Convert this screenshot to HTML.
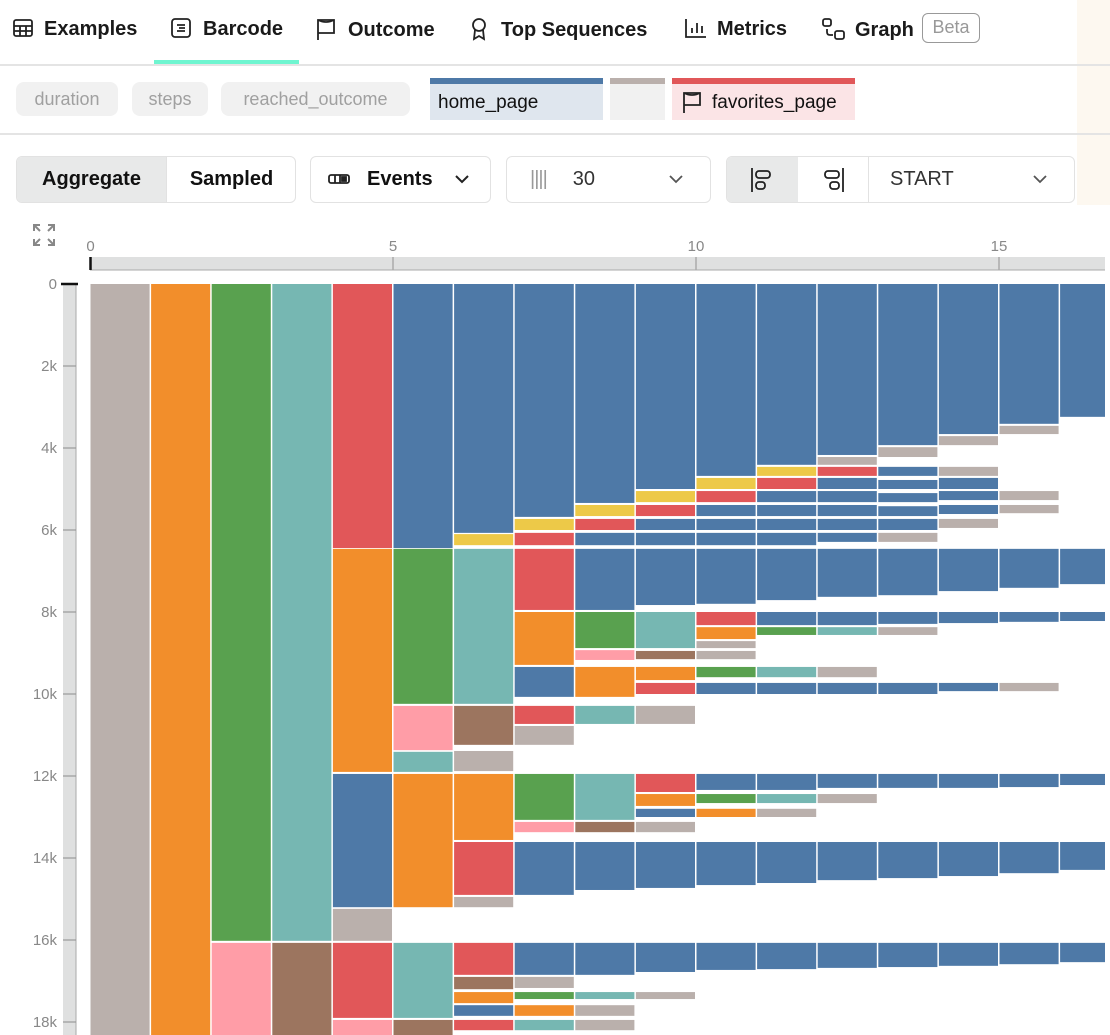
<!DOCTYPE html>
<html><head><meta charset="utf-8"><style>
*{box-sizing:border-box;margin:0;padding:0}
body{width:1110px;height:1035px;overflow:hidden;background:#fff;font-family:"Liberation Sans",sans-serif;position:relative;color:#111}
.abs{position:absolute}
.tab{position:absolute;top:17px;font-size:20px;font-weight:bold;color:#1a1a1a;white-space:nowrap}
.chip{position:absolute;top:82px;height:34px;border-radius:8px;background:#f1f1f1;color:#a0a0a0;font-size:18px;line-height:34px;text-align:center}
.btn{position:absolute;top:156px;height:47px;border:1px solid #e2e2e2;border-radius:6px;font-size:20px;line-height:45px}
.chev{position:absolute;top:17px}
</style></head><body>
<div class="abs" style="left:1077px;top:0;width:33px;height:205px;background:#fdf8f0"></div>
<div>
<div class="tab" style="left:12px"><svg width="22" height="22" viewBox="0 0 22 22" style="vertical-align:-4px;margin-right:10px" fill="none" stroke="#222" stroke-width="1.8"><rect x="2" y="3" width="18" height="16" rx="2"/><path d="M2 9h18M2 14h18M8 9v10M14 9v10"/></svg>Examples</div>
<div class="tab" style="left:170px"><svg width="22" height="22" viewBox="0 0 22 22" style="vertical-align:-4px;margin-right:11px" fill="none" stroke="#222" stroke-width="1.8"><rect x="2" y="2" width="18" height="18" rx="3"/><path d="M7 8h8M9 11h6M7 14h8"/></svg>Barcode</div>
<div class="abs" style="left:154px;top:60px;width:145px;height:4px;background:#6ff5d0"></div>
<div class="tab" style="left:315px"><svg width="22" height="24" viewBox="0 0 22 24" style="vertical-align:-5px;margin-right:11px" fill="none" stroke="#222" stroke-width="1.8"><path d="M3 23V3h16v13H3"/><path d="M3 3q8 4 16 0"/></svg>Outcome</div>
<div class="tab" style="left:469px"><svg width="20" height="24" viewBox="0 0 20 24" style="vertical-align:-5px;margin-right:12px" fill="none" stroke="#222" stroke-width="1.8"><circle cx="10" cy="8" r="6"/><path d="M6 13l-1 9 5-3 5 3-1-9"/></svg>Top Sequences</div>
<div class="tab" style="left:684px"><svg width="24" height="22" viewBox="0 0 24 22" style="vertical-align:-4px;margin-right:9px" fill="none" stroke="#222" stroke-width="1.8"><path d="M2 2v18h20M8 16v-5M13 16V6M18 16V9"/></svg>Metrics</div>
<div class="tab" style="left:821px"><svg width="26" height="24" viewBox="0 0 26 24" style="vertical-align:-5px;margin-right:8px" fill="none" stroke="#222" stroke-width="1.8"><rect x="2" y="2" width="8" height="7" rx="2"/><rect x="14" y="14" width="9" height="8" rx="2"/><path d="M6 12v3q0 3 3 3h3"/></svg>Graph</div>
<div class="abs" style="left:922px;top:13px;width:58px;height:30px;border:1.5px solid #999;border-radius:6px;color:#999;font-size:18px;line-height:27px;text-align:center">Beta</div>
</div>
<div class="abs" style="left:0;top:64px;width:1110px;height:1.5px;background:#e4e4e4"></div>
<div class="chip" style="left:16px;width:102px">duration</div>
<div class="chip" style="left:132px;width:76px">steps</div>
<div class="chip" style="left:221px;width:189px">reached_outcome</div>
<div class="abs" style="left:430px;top:78px;width:173px;height:42px;background:#dfe6ee;border-top:6px solid #4e79a7;font-size:19px;line-height:38px;padding-left:8px">home_page</div>
<div class="abs" style="left:610px;top:78px;width:55px;height:42px;background:#f1f1f1;border-top:6px solid #bab0ac"></div>
<div class="abs" style="left:672px;top:78px;width:183px;height:42px;background:#fbe4e6;border-top:6px solid #e15759;font-size:19px;line-height:38px;padding-left:10px"><svg width="20" height="24" viewBox="0 0 20 24" style="vertical-align:-6px;margin-right:10px" fill="none" stroke="#222" stroke-width="1.8"><path d="M2 23V3h16v12H2"/><path d="M2 3q8 4 16 0"/></svg>favorites_page</div>
<div class="abs" style="left:0;top:133px;width:1110px;height:1.5px;background:#e4e4e4"></div>
<div class="btn" style="left:16px;width:280px;overflow:hidden">
<div class="abs" style="left:0;top:0;width:149px;height:45px;background:#e8e9e9;font-weight:bold;text-align:center">Aggregate</div>
<div class="abs" style="left:149px;top:0;width:130px;height:45px;font-weight:bold;text-align:center;border-left:1px solid #e2e2e2">Sampled</div></div>
<div class="btn" style="left:310px;width:181px;font-weight:bold;padding-left:17px"><svg width="22" height="12" viewBox="0 0 22 12" style="vertical-align:0;margin-right:17px" fill="none" stroke="#222" stroke-width="1.8"><rect x="1" y="2" width="20" height="8" rx="2"/><path d="M7 2v8M12 2v8"/><rect x="14" y="4" width="4" height="4" fill="#222"/></svg>Events<svg class="chev" style="left:143px" width="16" height="10" viewBox="0 0 16 10" fill="none" stroke="#222" stroke-width="2"><path d="M2 2l6 6 6-6"/></svg></div>
<div class="btn" style="left:506px;width:205px;padding-left:23px;color:#333"><span style="color:#999;letter-spacing:-1px">||||</span><span style="margin-left:26px">30</span><svg class="chev" style="left:161px" width="16" height="10" viewBox="0 0 16 10" fill="none" stroke="#555" stroke-width="1.8"><path d="M2 2l6 6 6-6"/></svg></div>
<div class="btn" style="left:726px;width:349px;overflow:hidden">
<div class="abs" style="left:0;top:0;width:71px;height:45px;background:#e8e9e9"><svg width="26" height="26" viewBox="0 0 26 26" style="position:absolute;left:22px;top:10px" fill="none" stroke="#222" stroke-width="1.8"><path d="M3 1v24"/><rect x="7" y="4" width="14" height="7" rx="3"/><rect x="7" y="15" width="9" height="7" rx="3"/></svg></div>
<div class="abs" style="left:71px;top:0;width:71px;height:45px;border-right:1px solid #e2e2e2"><svg width="26" height="26" viewBox="0 0 26 26" style="position:absolute;left:22px;top:10px" fill="none" stroke="#222" stroke-width="1.8"><path d="M23 1v24"/><rect x="5" y="4" width="14" height="7" rx="3"/><rect x="10" y="15" width="9" height="7" rx="3"/></svg></div>
<div class="abs" style="left:163px;top:0;color:#333">START</div>
<svg class="chev" style="left:305px" width="16" height="10" viewBox="0 0 16 10" fill="none" stroke="#555" stroke-width="1.8"><path d="M2 2l6 6 6-6"/></svg></div>
<svg class="abs" style="left:31px;top:222px" width="26" height="26" viewBox="0 0 26 26" fill="none" stroke="#888" stroke-width="2"><path d="M3 9V3h6M3 3l6 6M23 9V3h-6M23 3l-6 6M3 17v6h6M3 23l6-6M23 17v6h-6M23 23l-6-6"/></svg>
<svg id="chart" class="abs" style="left:0;top:0" width="1110" height="1035"></svg>
<script>
const xTicks=[0,5,10,15];
const yTicks=[0,2,4,6,8,10,12,14,16,18];
const yTickLabels=['0','2k','4k','6k','8k','10k','12k','14k','16k','18k'];
const eventColors={g:'#bab0ac',o:'#f28e2b',n:'#59a14f',t:'#76b7b2',r:'#e15759',b:'#4e79a7',y:'#edc948',p:'#ff9da7',w:'#9c755f'};
const col0=[[0,19,'g']];
const col1=[[0,19,'o']];
const col2=[[0,16.02,'n'],[16.07,19,'p']];
const col3=[[0,16.02,'t'],[16.07,19,'w']];
const col4=[[0,6.44,'r'],[6.46,11.9,'o'],[11.95,15.2,'b'],[15.24,16.02,'g'],[16.07,17.9,'r'],[17.95,19,'p']];
const col5=[[0,6.44,'b'],[6.46,10.24,'n'],[10.29,11.37,'p'],[11.41,11.9,'t'],[11.95,15.2,'o'],[16.07,17.9,'t'],[17.95,19,'w']];
const col6=[[0,6.07,'b'],[6.1,6.37,'y'],[6.46,10.24,'t'],[10.29,11.24,'w'],[11.39,11.88,'g'],[11.95,13.56,'o'],[13.61,14.9,'r'],[14.95,15.2,'g'],[16.07,16.85,'r'],[16.9,17.2,'w'],[17.27,17.54,'o'],[17.59,17.85,'b'],[17.95,18.2,'r']];
const col7=[[0,5.68,'b'],[5.73,6.0,'y'],[6.07,6.37,'r'],[6.46,7.95,'r'],[8.0,9.29,'o'],[9.34,10.07,'b'],[10.29,10.73,'r'],[10.78,11.24,'g'],[11.95,13.07,'n'],[13.12,13.37,'p'],[13.61,14.9,'b'],[16.07,16.85,'b'],[16.9,17.17,'g'],[17.27,17.44,'n'],[17.59,17.85,'o'],[17.95,18.2,'t']];
const col8=[[0,5.34,'b'],[5.39,5.66,'y'],[5.73,6.0,'r'],[6.07,6.37,'b'],[6.46,7.95,'b'],[8.0,8.88,'n'],[8.93,9.17,'p'],[9.34,10.07,'o'],[10.29,10.73,'t'],[11.95,13.07,'t'],[13.12,13.37,'w'],[13.61,14.78,'b'],[16.07,16.85,'b'],[17.27,17.44,'t'],[17.59,17.85,'g'],[17.95,18.2,'g']];
const col9=[[0,5.0,'b'],[5.05,5.32,'y'],[5.39,5.66,'r'],[5.73,6.0,'b'],[6.07,6.37,'b'],[6.46,7.83,'b'],[8.0,8.88,'t'],[8.95,9.15,'w'],[9.34,9.66,'o'],[9.73,10.0,'r'],[10.29,10.73,'g'],[11.95,12.39,'r'],[12.44,12.73,'o'],[12.8,13.0,'b'],[13.12,13.37,'g'],[13.61,14.73,'b'],[16.07,16.78,'b'],[17.27,17.44,'g']];
const col10=[[0,4.68,'b'],[4.73,5.0,'y'],[5.05,5.32,'r'],[5.39,5.66,'b'],[5.73,6.0,'b'],[6.07,6.37,'b'],[6.46,7.8,'b'],[8.0,8.32,'r'],[8.37,8.66,'o'],[8.71,8.88,'g'],[8.95,9.15,'g'],[9.34,9.59,'n'],[9.73,10.0,'b'],[11.95,12.34,'b'],[12.44,12.66,'n'],[12.8,13.0,'o'],[13.61,14.66,'b'],[16.07,16.73,'b']];
const col11=[[0,4.41,'b'],[4.46,4.68,'y'],[4.73,5.0,'r'],[5.05,5.32,'b'],[5.39,5.66,'b'],[5.73,6.0,'b'],[6.07,6.37,'b'],[6.46,7.71,'b'],[8.0,8.32,'b'],[8.37,8.56,'n'],[9.34,9.59,'t'],[9.73,10.0,'b'],[11.95,12.34,'b'],[12.44,12.66,'t'],[12.8,13.0,'g'],[13.61,14.61,'b'],[16.07,16.71,'b']];
const col12=[[0,4.17,'b'],[4.22,4.41,'g'],[4.46,4.68,'r'],[4.73,5.0,'b'],[5.05,5.32,'b'],[5.39,5.66,'b'],[5.73,6.0,'b'],[6.07,6.29,'b'],[6.46,7.63,'b'],[8.0,8.32,'b'],[8.37,8.56,'t'],[9.34,9.59,'g'],[9.73,10.0,'b'],[11.95,12.29,'b'],[12.44,12.66,'g'],[13.61,14.54,'b'],[16.07,16.68,'b']];
const col13=[[0,3.93,'b'],[3.98,4.22,'g'],[4.46,4.68,'b'],[4.78,5.0,'b'],[5.1,5.32,'b'],[5.42,5.66,'b'],[5.73,6.0,'b'],[6.07,6.29,'g'],[6.46,7.59,'b'],[8.0,8.29,'b'],[8.37,8.56,'g'],[9.73,10.0,'b'],[11.95,12.29,'b'],[13.61,14.49,'b'],[16.07,16.66,'b']];
const col14=[[0,3.66,'b'],[3.71,3.93,'g'],[4.46,4.68,'g'],[4.73,5.0,'b'],[5.05,5.27,'b'],[5.39,5.61,'b'],[5.73,5.95,'g'],[6.46,7.49,'b'],[8.0,8.27,'b'],[9.73,9.93,'b'],[11.95,12.29,'b'],[13.61,14.44,'b'],[16.07,16.63,'b']];
const col15=[[0,3.41,'b'],[3.46,3.66,'g'],[5.05,5.27,'g'],[5.39,5.59,'g'],[6.46,7.41,'b'],[8.0,8.24,'b'],[9.73,9.93,'g'],[11.95,12.27,'b'],[13.61,14.37,'b'],[16.07,16.59,'b']];
const col16=[[0,3.24,'b'],[6.46,7.32,'b'],[8.0,8.22,'b'],[11.95,12.22,'b'],[13.61,14.29,'b'],[16.07,16.54,'b']];
const columns=[col0,col1,col2,col3,col4,col5,col6,col7,col8,col9,col10,col11,col12,col13,col14,col15,col16];

const NS='http://www.w3.org/2000/svg';
const svg=document.getElementById('chart');
const X0=90,STEP=60.6,Y0=284,PXK=41,RIGHT=1105,BOTTOM=1035;
function xs(i){return X0+i*STEP;}
function ys(k){return Y0+k*PXK;}
function mk(tag,attrs){const e=document.createElementNS(NS,tag);for(const k in attrs)e.setAttribute(k,attrs[k]);svg.appendChild(e);return e;}
let e=mk('rect',{x:X0,y:257,width:RIGHT-X0,height:13,fill:'#dfe0e0'});


e=mk('line',{x1:X0,y1:270,x2:RIGHT,y2:270,stroke:'#aaa','stroke-width':1});


xTicks.forEach((t,i)=>{
  const x=xs(t)+(t===0?0.5:0);
  const l=mk('line',{x1:x,y1:257,x2:x,y2:270,stroke:t===0?'#111':'#aaa','stroke-width':t===0?2.5:1.5});
  
  
  const tx=mk('text',{x:x,y:251,'text-anchor':'middle','font-size':15,fill:'#888','font-family':'Liberation Sans, sans-serif'});
  tx.textContent=t;
  
  
});
e=mk('rect',{x:63,y:Y0,width:13,height:BOTTOM-Y0,fill:'#dfe0e0'});


e=mk('line',{x1:76,y1:Y0,x2:76,y2:BOTTOM,stroke:'#aaa','stroke-width':1});


yTicks.forEach((t,i)=>{
  const y=ys(t);
  const l=mk('line',{x1:t===0?61:63,y1:y,x2:t===0?78:76,y2:y,stroke:t===0?'#111':'#999','stroke-width':t===0?2.5:1.2});
  
  
  const tx=mk('text',{x:57,y:y+5,'text-anchor':'end','font-size':15,fill:'#888','font-family':'Liberation Sans, sans-serif'});
  tx.textContent=yTickLabels[i];
  
  
});
columns.forEach((col,i)=>{
  const x=xs(i)+0.5;
  const w=Math.min(STEP-1.5,RIGHT-x);
  col.forEach(s=>{
    const y1=ys(s[0]),y2=Math.min(ys(s[1]),BOTTOM);
    const r=mk('rect',{x:x,y:y1,width:w,height:y2-y1,fill:eventColors[s[2]]});
    
    
  });
});
</script>
</body></html>
